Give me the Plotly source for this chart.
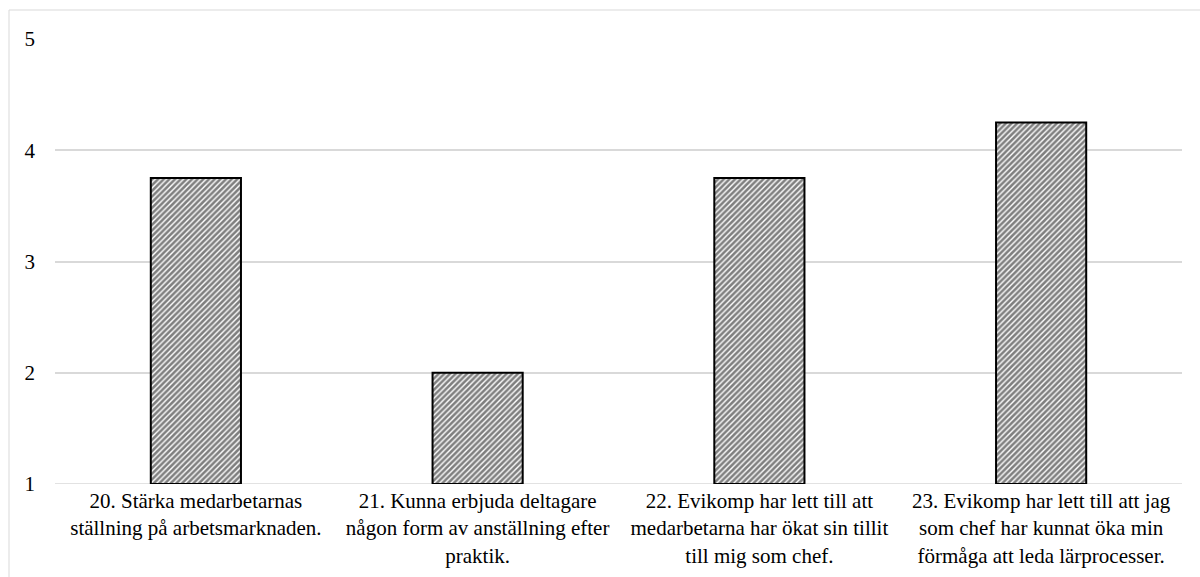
import plotly.graph_objects as go

categories = [
    "20. Stärka medarbetarnas<br>ställning på arbetsmarknaden.",
    "21. Kunna erbjuda deltagare<br>någon form av anställning efter<br>praktik.",
    "22. Evikomp har lett till att<br>medarbetarna har ökat sin tillit<br>till mig som chef.",
    "23. Evikomp har lett till att jag<br>som chef har kunnat öka min<br>förmåga att leda lärprocesser.",
]
values = [3.75, 2.0, 3.75, 4.25]
y_ticks = [1, 2, 3, 4, 5]

W, H = 1200, 577
L, R, T, B = 55, 1182, 39, 484
FONT = "Liberation Serif"

fig = go.Figure()
fig.add_trace(go.Bar(
    x=categories,
    y=[v - 1 for v in values],
    base=1,
    marker=dict(
        color="white",
        line=dict(color="black", width=2),
        pattern=dict(shape="/", fgcolor="black", bgcolor="white", size=4, solidity=0.65),
    ),
    hoverinfo="skip",
))

fig.update_layout(
    width=W, height=H,
    margin=dict(l=0, r=0, t=0, b=0),
    paper_bgcolor="white", plot_bgcolor="white",
    showlegend=False,
    bargap=0.68,
    font=dict(family=FONT, size=21, color="black"),
    xaxis=dict(
        domain=[L / W, R / W],
        showgrid=False, showline=False, zeroline=False,
        ticks="", tickangle=0, automargin=False,
        tickfont=dict(family=FONT, size=21, color="black"),
        ticklabelstandoff=2,
    ),
    yaxis=dict(
        domain=[(H - B) / H, (H - T) / H],
        range=[1, 5], tickvals=y_ticks, ticktext=[str(t) for t in y_ticks],
        showgrid=True, gridcolor="#d9d9d9", gridwidth=1.5,
        showline=False, zeroline=False, ticks="", automargin=False,
        ticklabelstandoff=19,
        tickfont=dict(family=FONT, size=21, color="black"),
    ),
)

fig.add_shape(
    type="line", xref="paper", yref="y",
    x0=L / W, x1=R / W, y0=1, y1=1,
    line=dict(color="#d9d9d9", width=1.5), layer="below",
)
fig.add_shape(
    type="rect", xref="paper", yref="paper",
    x0=9 / W, x1=1.05, y0=-0.05, y1=(H - 10) / H,
    line=dict(color="#d9d9d9", width=1), fillcolor="rgba(0,0,0,0)",
)

fig.write_html("out.html")
